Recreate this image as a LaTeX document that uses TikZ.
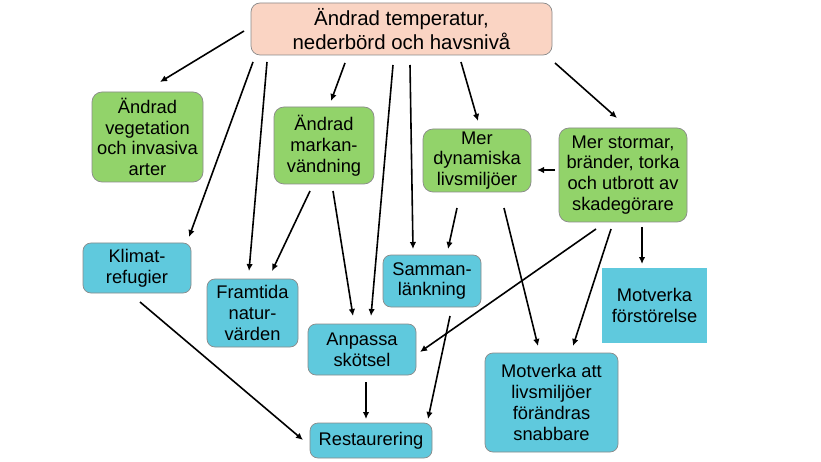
\documentclass[tikz,border=0pt]{standalone}
\usepackage{fontspec}
\setmainfont{Liberation Sans}
\usetikzlibrary{arrows.meta}
\definecolor{topfill}{HTML}{FAD4C3}
\definecolor{gfill}{HTML}{92D36A}
\definecolor{bfill}{HTML}{5FC9DD}
\definecolor{edgegray}{HTML}{8A8A8A}
\begin{document}
\begin{tikzpicture}[x=1pt,y=-1pt,
  basebox/.style={draw=edgegray, line width=0.7pt, inner sep=0pt, align=center,
    font=\fontsize{18.3}{20.8}\selectfont},
  topbox/.style={basebox, fill=topfill, rounded corners=9pt, font=\fontsize{20.4}{24}\selectfont},
  gbox/.style={basebox, fill=gfill, rounded corners=10pt},
  bbox/.style={basebox, fill=bfill, rounded corners=8pt},
  sbox/.style={basebox, draw=none, fill=bfill},
  arr/.style={line width=1.6pt, -{Latex[length=7pt,width=6.5pt]}}]
\useasboundingbox (0,0) rectangle (821,462);
\fill[white] (0,0) rectangle (821,462);

\node[topbox, minimum width=301pt, minimum height=52pt] (top) at (401.5,29) {Ändrad temperatur,\\nederbörd och havsnivå};
\node[gbox, minimum width=111pt, minimum height=90pt] (veg) at (147.5,137) {Ändrad\\vegetation\\och invasiva\\arter};
\node[gbox, minimum width=100pt, minimum height=77pt] (mark) at (324,145.5) {Ändrad\\markan-\\vändning};
\node[gbox, minimum width=108pt, minimum height=63pt] (dyn) at (477,160.5) {Mer\\dynamiska\\livsmiljöer};
\node[gbox, minimum width=128pt, minimum height=94pt] (storm) at (623,175) {Mer stormar,\\bränder, torka\\och utbrott av\\skadegörare};
\node[bbox, minimum width=108pt, minimum height=50pt] (klim) at (137,268) {Klimat-\\refugier};
\node[bbox, minimum width=91pt, minimum height=68pt] (fram) at (252.5,313) {Framtida\\natur-\\värden};
\node[bbox, minimum width=98pt, minimum height=52pt] (samm) at (432,281) {Samman-\\länkning};
\node[bbox, minimum width=108pt, minimum height=51pt] (anp) at (362,349.5) {Anpassa\\skötsel};
\node[bbox, minimum width=122pt, minimum height=35pt] (rest) at (371,440.5) {Restaurering};
\node[bbox, minimum width=133pt, minimum height=99pt] (motatt) at (551.5,402.5) {Motverka att\\livsmiljöer\\förändras\\snabbare};
\node[sbox, minimum width=105pt, minimum height=75pt] (forst) at (654.5,305.5) {Motverka\\förstörelse};

% arrow end points
\coordinate (a1s) at (244,31);   \coordinate (a1e) at (160,82);
\coordinate (a2s) at (253,62);   \coordinate (a2e) at (189,237);
\coordinate (a3s) at (267,62);   \coordinate (a3e) at (249,271);
\coordinate (a4s) at (345,63);   \coordinate (a4e) at (331,101);
\coordinate (a5s) at (393,65);   \coordinate (a5e) at (371,316);
\coordinate (a6s) at (410,65);   \coordinate (a6e) at (413,249);
\coordinate (a7s) at (461,62);   \coordinate (a7e) at (478,121);
\coordinate (a8s) at (555,63);   \coordinate (a8e) at (617,118);
\coordinate (a9s) at (310,191);  \coordinate (a9e) at (272,271);
\coordinate (a10s) at (333,191); \coordinate (a10e) at (353,316);
\coordinate (a11s) at (555,170); \coordinate (a11e) at (537,170);
\coordinate (a12s) at (457,208); \coordinate (a12e) at (448,249);
\coordinate (a13s) at (504,208); \coordinate (a13e) at (538,346);
\coordinate (a14s) at (596,229); \coordinate (a14e) at (420,352);
\coordinate (a15s) at (611,229); \coordinate (a15e) at (573,346);
\coordinate (a16s) at (642,227); \coordinate (a16e) at (642,264);
\coordinate (a17s) at (450,316); \coordinate (a17e) at (428,419);
\coordinate (a18s) at (366,382); \coordinate (a18e) at (366,419);
\coordinate (a19s) at (140,302); \coordinate (a19e) at (303,440);

\foreach \i in {1,...,19} {\draw[arr] (a\i s) -- (a\i e);}
\end{tikzpicture}
\end{document}
